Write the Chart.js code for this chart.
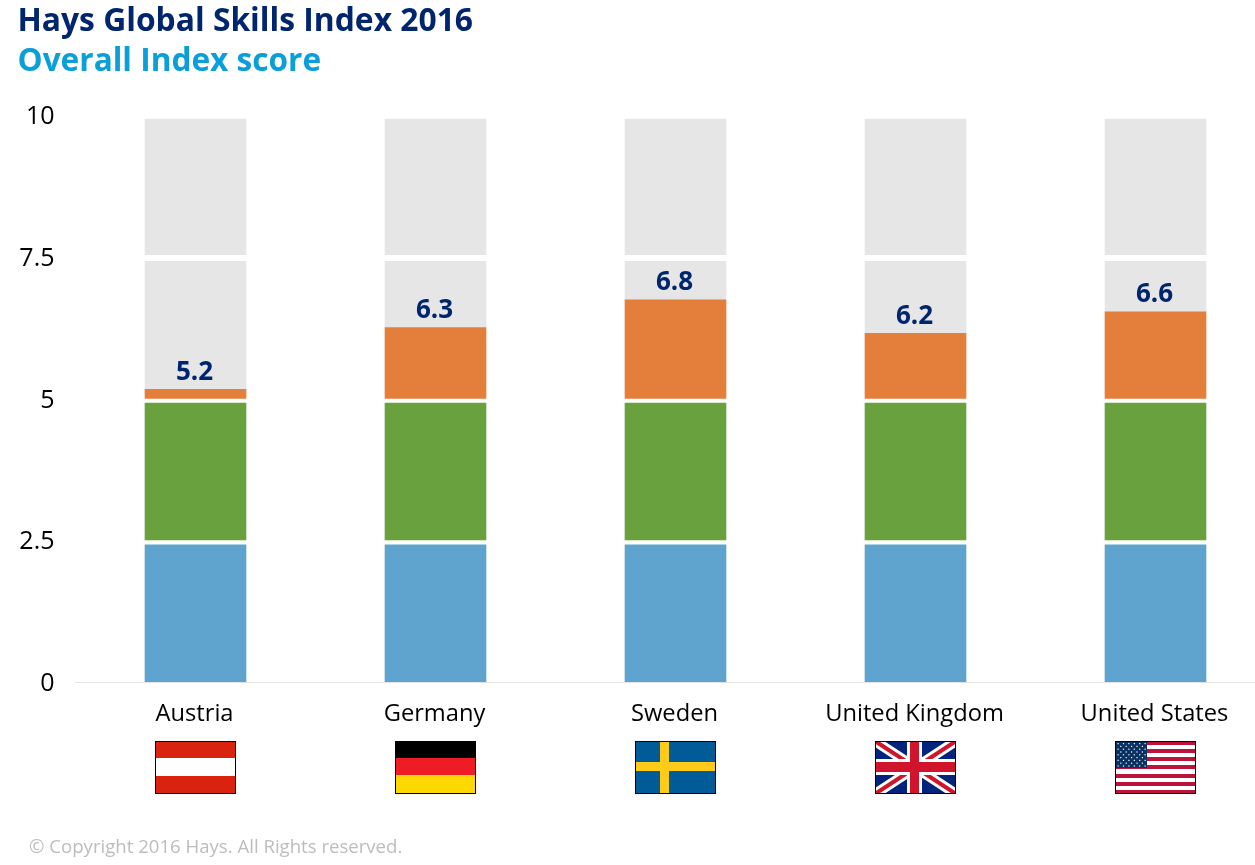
<!DOCTYPE html>
<html>
<head>
<meta charset="utf-8">
<title>Hays Global Skills Index 2016</title>
<script src="https://cdn.jsdelivr.net/npm/chart.js@4/dist/chart.umd.min.js"></script>
<style>
  html, body { margin: 0; padding: 0; background: #fff; overflow: hidden; width: 1255px; height: 865px; }
  body { position: relative; font-family: "Open Sans", sans-serif; }
  /* canvas runs 20px past the window: the last category slot is cut off in the original too */
  canvas { position: absolute; left: 0; top: 0; }
  .head { position: absolute; left: 17.5px; font-size: 31.8px; font-weight: 700; line-height: 40px; white-space: nowrap; }
  #t1 { top: -1px; color: #00256f; }
  #t2 { top: 39px; font-size: 31.6px; color: #0a9fd8; }
  #copy { position: absolute; left: 29px; top: 832px; font-size: 18.6px; line-height: 28px; color: #bdbdbd; white-space: nowrap; }
</style>
</head>
<body>
<canvas id="chart" width="1276" height="865"></canvas>
<div class="head" id="t1">Hays Global Skills Index 2016</div>
<div class="head" id="t2">Overall Index score</div>
<div id="copy">© Copyright 2016 Hays. All Rights reserved.</div>
<script>
const categories = ["Austria", "Germany", "Sweden", "United Kingdom", "United States"];
const scoreLabels = ["5.2", "6.3", "6.8", "6.2", "6.6"];
// top of the orange part
const scores = [5.16, 6.25, 6.74, 6.15, 6.53];
const yTicks = [0, 2.5, 5, 7.5, 10];

// the four bands of each bar
const blueBand = [0, 2.42];
const greenBand = [2.505, 4.92];
const orangeStart = 5;
const greyEnd = 7.42;
const topBand = [7.535, 9.93];

const each = band => categories.map(() => band);

// flags are decoration, painted under each category label
const flagW = 81, flagH = 53, flagTop = 741;

function drawFlag(ctx, name, x, y) {
  const w = flagW, h = flagH;
  const rect = (c, a, b, rw, rh) => { ctx.fillStyle = c; ctx.fillRect(x + a, y + b, rw, rh); };
  ctx.save();
  ctx.beginPath();
  ctx.rect(x, y, w, h);
  ctx.clip();
  if (name === "Austria") {
    rect("#d9230f", 0, 0, w, h);
    rect("#ffffff", 0, 17, w, 18);
  } else if (name === "Germany") {
    rect("#000000", 0, 0, w, 17);
    rect("#ee1c25", 0, 17, w, 17);
    rect("#ffd800", 0, 34, w, 19);
  } else if (name === "Sweden") {
    rect("#005b99", 0, 0, w, h);
    rect("#fecb18", 25, 0, 9, h);
    rect("#fecb18", 0, 21, w, 9);
  } else if (name === "United Kingdom") {
    rect("#00247d", 0, 0, w, h);
    const diag = (c, lw) => {
      ctx.strokeStyle = c;
      ctx.lineWidth = lw;
      ctx.beginPath();
      ctx.moveTo(x, y); ctx.lineTo(x + w, y + h);
      ctx.moveTo(x + w, y); ctx.lineTo(x, y + h);
      ctx.stroke();
    };
    diag("#ffffff", 10);
    diag("#cf142b", 4);
    rect("#ffffff", 32, 0, 15, h);
    rect("#ffffff", 0, 18, w, 16);
    rect("#cf142b", 35, 0, 9, h);
    rect("#cf142b", 0, 21, w, 10);
  } else {
    rect("#ffffff", 0, 0, w, h);
    for (let i = 0; i < 13; i += 2) {
      rect("#bb133e", 0, Math.round(i * h / 13), w, Math.round(h / 13));
    }
    rect("#0a3161", 0, 0, 32, 27);
    ctx.fillStyle = "#ffffff";
    for (let row = 0; row < 9; row++) {
      const n = row % 2 ? 5 : 6;
      for (let i = 0; i < n; i++) {
        ctx.fillRect(x + 2.5 + i * 5.4 + (row % 2 ? 2.7 : 0), y + 2 + row * 2.8, 1.2, 1.2);
      }
    }
  }
  ctx.restore();
  ctx.strokeStyle = "#000000";
  ctx.lineWidth = 1;
  ctx.strokeRect(x + 0.5, y + 0.5, w - 1, h - 1);
}

const overlayPlugin = {
  id: "overlay",
  afterDraw(chart) {
    const { ctx, scales } = chart;
    ctx.save();
    ctx.font = "700 26px 'Open Sans'";
    ctx.fillStyle = "#00256f";
    ctx.textAlign = "center";
    ctx.textBaseline = "alphabetic";
    categories.forEach((name, i) => {
      const cx = scales.x.getPixelForValue(i);
      ctx.fillText(scoreLabels[i], cx - 1, scales.y.getPixelForValue(scores[i]) - 9.5);
      drawFlag(ctx, name, Math.floor(cx - flagW / 2), flagTop);
    });
    ctx.restore();
  }
};

new Chart(document.getElementById("chart"), {
  type: "bar",
  data: {
    labels: categories,
    datasets: [
      { data: each(blueBand), backgroundColor: "#5fa4ce" },
      { data: each(greenBand), backgroundColor: "#69a13f" },
      { data: scores.map(s => [orangeStart, s]), backgroundColor: "#e37f3b" },
      { data: scores.map(s => [s, greyEnd]), backgroundColor: "#e6e6e6" },
      { data: each(topBand), backgroundColor: "#e6e6e6" }
    ]
  },
  plugins: [overlayPlugin],
  options: {
    responsive: false,
    animation: false,
    layout: { padding: { top: 115, left: 0, right: 0.5, bottom: 0 } },
    datasets: { bar: { grouped: false, barThickness: 101 } },
    plugins: { legend: { display: false }, tooltip: { enabled: false } },
    scales: {
      x: {
        grid: { display: false },
        border: { display: true, color: "#e4e4e4" },
        ticks: { color: "#000", font: { family: "Open Sans", size: 23.7 }, padding: 10, labelOffset: -1, maxRotation: 0, autoSkip: false },
        afterFit(scale) { scale.height = 183; }
      },
      y: {
        min: 0,
        max: 10,
        afterBuildTicks(scale) { scale.ticks = yTicks.map(value => ({ value })); },
        grid: { display: false, drawTicks: false },
        border: { display: false },
        ticks: { color: "#000", font: { family: "Open Sans", size: 25 }, padding: 21, labelOffset: 2, callback: v => String(v) },
        afterFit(scale) { scale.width = 75.5; }
      }
    }
  }
});
</script>
</body>
</html>
